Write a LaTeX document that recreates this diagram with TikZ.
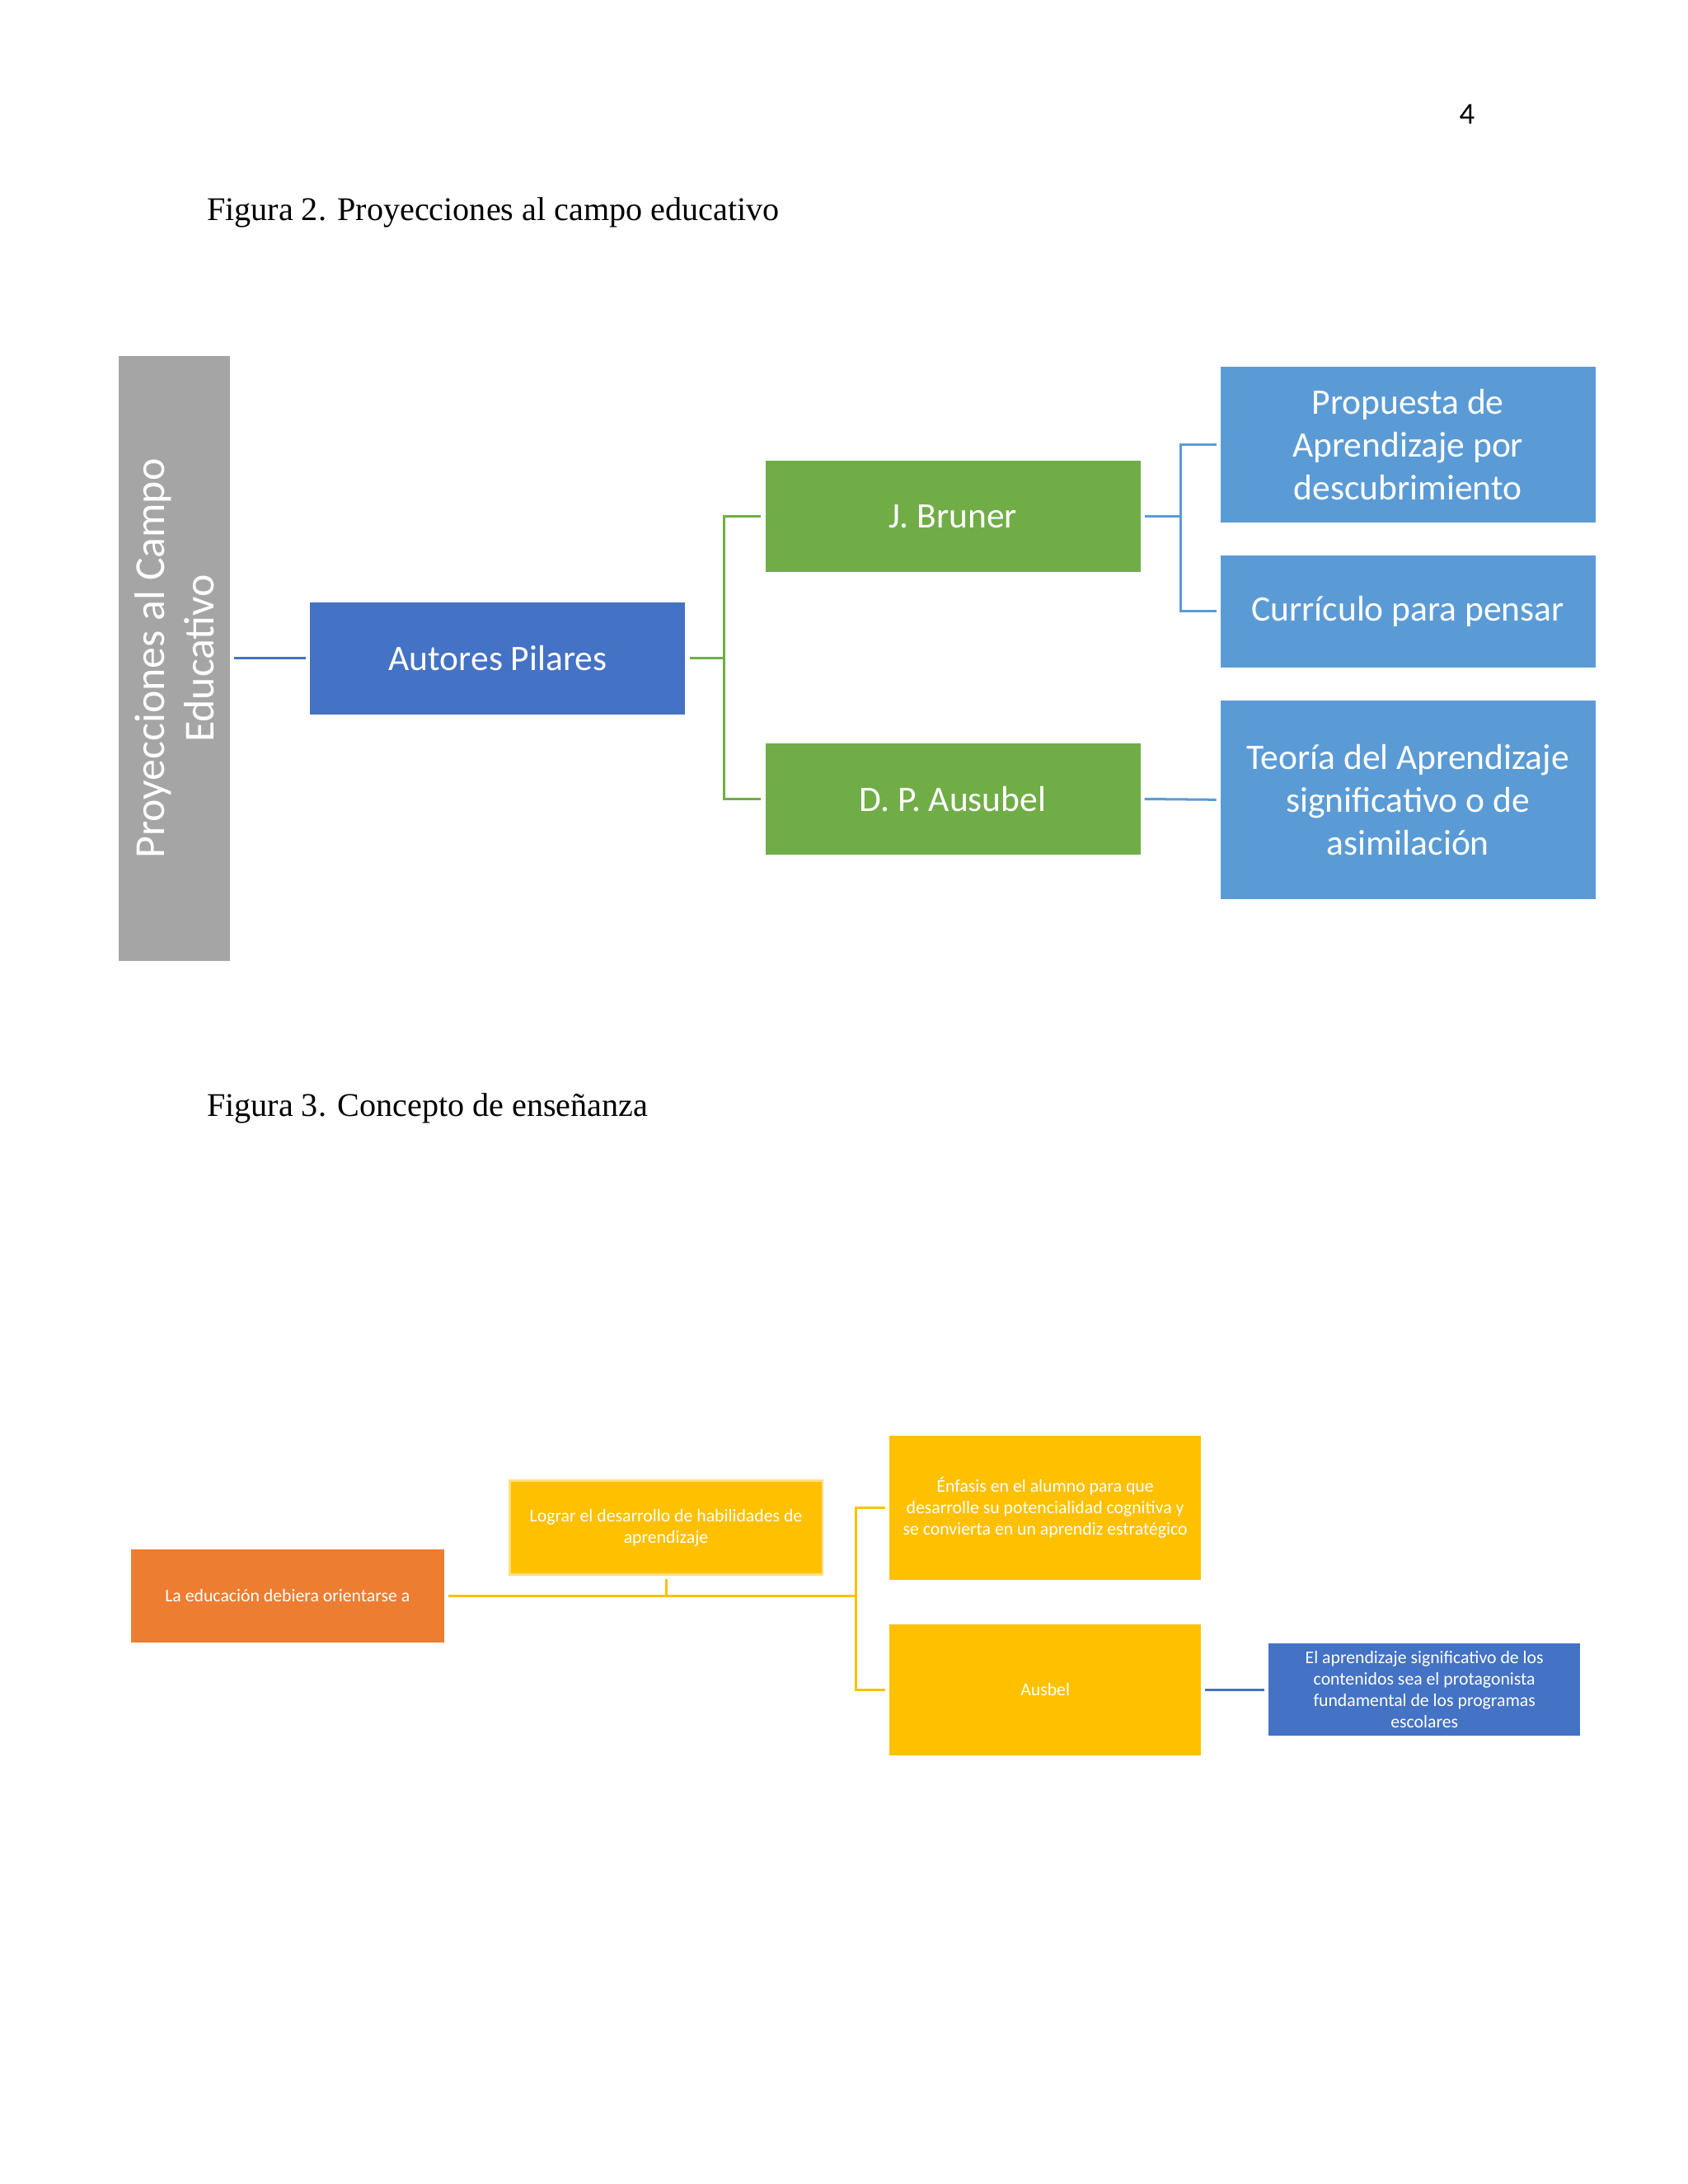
\documentclass[tikz,border=0pt]{standalone}
\usepackage{fontspec}
\setmainfont{Liberation Serif}
\newfontfamily\calfnt{Carlito}
\definecolor{gbox}{HTML}{A5A5A5}
\definecolor{dblue}{HTML}{4472C4}
\definecolor{lblue}{HTML}{5B9BD5}
\definecolor{grn}{HTML}{70AD47}
\definecolor{org}{HTML}{ED7D31}
\definecolor{yel}{HTML}{FFC000}
\begin{document}
\begin{tikzpicture}[x=0.5pt,y=-0.5pt,
  bx/.style={inner sep=0pt,outer sep=1.5pt,text=white,align=center,font=\calfnt\fontsize{13}{15.5}\selectfont},
  sm/.style={inner sep=0pt,outer sep=1.5pt,text=white,align=center,font=\calfnt\fontsize{6.5}{7.8}\selectfont},
  ln/.style={line width=0.9pt}]
\useasboundingbox (0,0) rectangle (1224,1584);
\fill[white] (0,0) rectangle (1224,1584);
\node[font=\calfnt\fontsize{11}{13}\selectfont] (pg) at (1064,83) {4};
\node[anchor=west,font=\fontsize{12}{14}\selectfont] (c2) at (143,154) {Figura 2. Proyecciones al campo educativo};
\node[anchor=west,font=\fontsize{12}{14}\selectfont] (c3) at (143,804) {Figura 3. Concepto de enseñanza};
% Figure 2
\node[bx,fill=gbox,minimum width=40.5pt,minimum height=219.5pt] (g) at (126.5,477.5) {};
\node[text=white,align=center,rotate=90,font=\calfnt\fontsize{15.5}{18}\selectfont] at (g.center) {Proyecciones al Campo\\Educativo};
\node[bx,fill=dblue,minimum width=136pt,minimum height=40.5pt] (ap) at (361,477.5) {Autores Pilares};
\node[bx,fill=grn,minimum width=136pt,minimum height=40.5pt] (jb) at (691,374.5) {J. Bruner};
\node[bx,fill=grn,minimum width=136pt,minimum height=40.5pt] (da) at (691,579.5) {D. P. Ausubel};
\node[bx,fill=lblue,minimum width=136pt,minimum height=56.5pt] (pr) at (1021,322.5) {Propuesta de\\Aprendizaje por\\descubrimiento};
\node[bx,fill=lblue,minimum width=136pt,minimum height=40.5pt] (cu) at (1021,443.5) {Currículo para pensar};
\node[bx,fill=lblue,minimum width=136pt,minimum height=72pt] (te) at (1021,580) {Teoría del Aprendizaje\\significativo o de\\asimilación};
\draw[ln,dblue] (g.east) -- (ap.west);
\coordinate (j1) at (525,477.5);
\draw[ln,grn] (ap.east) -- (j1) |- (jb.west);
\draw[ln,grn] (j1) |- (da.west);
\coordinate (j2) at (856,374.5);
\draw[ln,lblue] (jb.east) -- (j2) |- (pr.west);
\draw[ln,lblue] (j2) |- (cu.west);
\draw[ln,lblue] (da.east) -- (te.west);
% Figure 3
\node[sm,fill=org,minimum width=113.5pt,minimum height=33.5pt] (le) at (208.5,1157.5) {La educación debiera orientarse a};
\node[sm,fill=yel,draw=yel!50,line width=0.8pt,minimum width=113.5pt,minimum height=34pt] (lo) at (483,1108) {Lograr el desarrollo de habilidades de\\aprendizaje};
\node[sm,fill=yel,minimum width=113pt,minimum height=52.5pt] (en) at (758,1093.5) {Énfasis en el alumno para que\\desarrolle su potencialidad cognitiva y\\se convierta en un aprendiz estratégico};
\node[sm,fill=yel,minimum width=113pt,minimum height=47.5pt] (au) at (758,1225.5) {Ausbel};
\node[sm,fill=dblue,minimum width=113pt,minimum height=33.5pt] (ea) at (1033,1225.5) {El aprendizaje significativo de los\\contenidos sea el protagonista\\fundamental de los programas\\escolares};
\coordinate (k1) at (621,1157.5);
\coordinate (k0) at (483,1157.5);
\draw[ln,yel] (le.east) -- (k1);
\draw[ln,yel] (lo.south) -- (k0);
\draw[ln,yel] (k1) |- (en.west);
\draw[ln,yel] (k1) |- (au.west);
\draw[ln,dblue] (au.east) -- (ea.west);
\end{tikzpicture}
\end{document}
